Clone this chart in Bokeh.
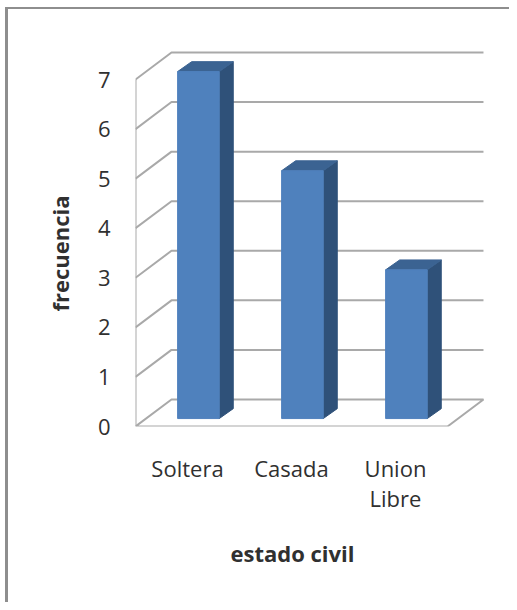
from bokeh.plotting import figure
from bokeh.embed import file_html
from bokeh.resources import INLINE
from bokeh.models import FixedTicker, Title

categories = ["Soltera", "Casada", "Union\nLibre"]
frecuencia = [7, 5, 3]
y_ticks = [0, 1, 2, 3, 4, 5, 6, 7]
x_title = "estado civil"
y_title = "frecuencia"

FONT = "Open Sans"
GRID = "#a9a9a9"
FRONT, SIDE, TOP = "#4f81bd", "#2f5179", "#3b6392"
TEXT = "#303030"

# projection of the 3D box, in data units
WALL_DX, WALL_DY = 0.346, 0.545
BAR_SHIFT_X, BAR_BASE = 0.105, 0.16
BAR_HALF = 0.2
BAR_DX, BAR_DY = 0.135, 0.2
XL, XR = -0.5, 2.5

W, H = 504, 595
FW, FH = 364, 386
FL = 127
FT = 31

p = figure(width=W, height=H, output_backend="svg", toolbar_location=None,
           x_range=(XL, XL + FW / 104), y_range=(0, FH / 49.57),
           min_border_left=FL, min_border_right=W - FL - FW,
           min_border_bottom=H - FT - FH, min_border_top=FT,
           outline_line_color=None, background_fill_color="white",
           border_fill_color="white", margin=(7, 0, 0, 5))
p.styles = {"border-left": "3px solid #8e8e8e", "border-top": "2px solid #8e8e8e",
            "box-sizing": "border-box"}
p.grid.visible = False

# walls
for v in y_ticks[1:]:
    p.line([XL, XL + WALL_DX, XR + WALL_DX], [v, v + WALL_DY, v + WALL_DY],
           line_color=GRID, line_width=2)
p.line([XL, XL], [y_ticks[0], y_ticks[-1]], line_color=GRID, line_width=2)
p.line([XL, XL + WALL_DX, XR + WALL_DX, XR, XL],
       [0, WALL_DY, WALL_DY, 0, 0], line_color=GRID, line_width=2)

# bars
xs = list(range(len(categories)))
lefts = [x + BAR_SHIFT_X - BAR_HALF for x in xs]
rights = [x + BAR_SHIFT_X + BAR_HALF for x in xs]
base = BAR_BASE
p.patches([[r, r + BAR_DX, r + BAR_DX, r] for r in rights],
          [[base, base + BAR_DY, base + v + BAR_DY, base + v] for v in frecuencia],
          fill_color=SIDE, line_color=SIDE)
p.patches([[l, l + BAR_DX, r + BAR_DX, r] for l, r in zip(lefts, rights)],
          [[base + v, base + v + BAR_DY, base + v + BAR_DY, base + v] for v in frecuencia],
          fill_color=TOP, line_color=TOP)
p.quad(left=lefts, right=rights, bottom=[base] * 3, top=[base + v for v in frecuencia],
       fill_color=FRONT, line_color=FRONT)

# axes
ax = p.xaxis[0]
ax.ticker = FixedTicker(ticks=xs)
ax.major_label_overrides = {i: c for i, c in enumerate(categories)}
ay = p.yaxis[0]
ay.ticker = FixedTicker(ticks=y_ticks)
for a in (ax, ay):
    a.axis_line_color = None
    a.major_tick_line_color = None
    a.minor_tick_line_color = None
    a.major_tick_in = 0
    a.major_tick_out = 0
    a.major_label_text_font = FONT
    a.major_label_text_font_size = "22px"
    a.major_label_text_color = TEXT
    a.major_label_text_line_height = 1.0
ax.major_label_standoff = 26
ay.major_label_standoff = 25
ay.major_label_orientation = 0

# axis titles are centred on the box, not on the frame
p.add_layout(Title(text=x_title, align="left", offset=95, standoff=41, text_font=FONT,
                   text_font_size="22px", text_font_style="bold", text_color=TEXT), "below")
p.add_layout(Title(text=y_title, align="left", offset=115, standoff=40, text_font=FONT,
                   text_font_size="22px", text_font_style="bold", text_color=TEXT), "left")

open("out.html", "w").write(file_html(p, INLINE))
